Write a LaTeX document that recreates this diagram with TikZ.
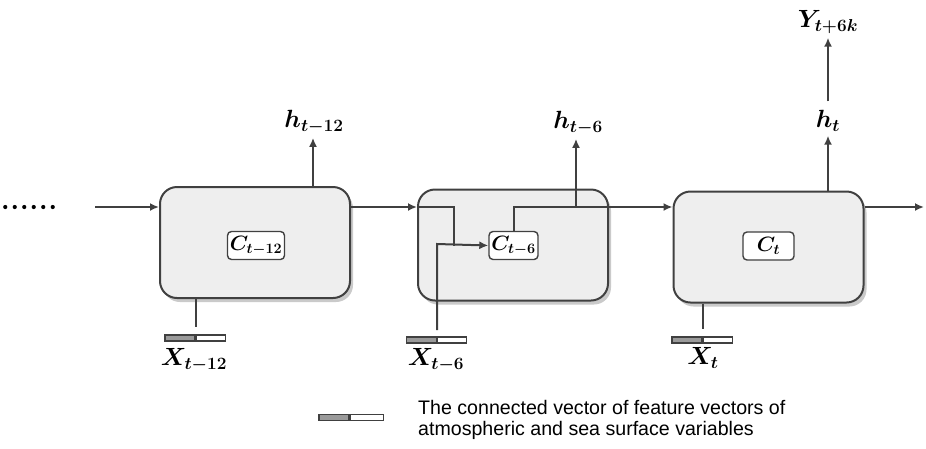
\documentclass[tikz,border=0pt]{standalone}
\usepackage{fontspec}
\setsansfont{Liberation Sans}
\usepackage{bm}
\usetikzlibrary{shadows,arrows.meta}
\definecolor{lc}{HTML}{404040}
\definecolor{cellfill}{HTML}{EEEEEE}
\definecolor{vecgray}{HTML}{9A9A9A}
\begin{document}
\begin{tikzpicture}[x=1pt,y=-1pt,
  line/.style={draw=lc, line width=2pt},
  arr/.style={line, -{Latex[length=9pt,width=8pt]}},
  cell/.style={draw=lc, line width=2pt, fill=cellfill, rounded corners=17pt,
    minimum width=190pt, minimum height=111pt,
    drop shadow={shadow xshift=3pt, shadow yshift=-4pt, opacity=0.35, fill=black!60}},
  cbox/.style={draw=lc, line width=1.4pt, fill=white, rounded corners=4pt,
    minimum height=28pt, inner sep=1pt, font=\fontsize{22}{22}\selectfont},
  vg/.style={draw=lc, line width=1.2pt, fill=vecgray, minimum width=30pt, minimum height=6pt, inner sep=0pt},
  vw/.style={draw=lc, line width=1.2pt, fill=white, minimum width=29pt, minimum height=6pt, inner sep=0pt},
  lab/.style={inner sep=0pt, font=\fontsize{24}{24}\selectfont},
]
\useasboundingbox (0,0) rectangle (926,448);

% cells
\node[cell] (c1) at (255,242.5) {};
\node[cell] (c2) at (513,245) {};
\node[cell] (c3) at (768.5,247) {};

% inner states
\node[cbox, minimum width=57pt] (k1) at (256,245.5) {$\bm{C}_{\bm{t-12}}$};
\node[cbox, minimum width=49pt] (k2) at (513.5,245.5) {$\bm{C}_{\bm{t-6}}$};
\node[cbox, minimum width=51pt] (k3) at (768.5,246) {$\bm{C}_{\bm{t}}$};

% feature vectors
\node[vg] (g1) at (180,338) {};
\node[vw, anchor=west] (w1) at (g1.east) {};
\node[vg] (g2) at (421.5,340) {};
\node[vw, anchor=west] (w2) at (g2.east) {};
\node[vg] (g3) at (687,340) {};
\node[vw, anchor=west] (w3) at (g3.east) {};
\node[vg] (gl) at (334,417.5) {};
\node[vw, anchor=west, minimum width=33pt] (wl) at (gl.east) {};

% labels
\node[lab] (x1) at (194,360) {$\bm{X}_{\bm{t-12}}$};
\node[lab] (x2) at (436,360) {$\bm{X}_{\bm{t-6}}$};
\node[lab] (x3) at (703,358) {$\bm{X}_{\bm{t}}$};
\node[lab] (h1) at (314,122) {$\bm{h}_{\bm{t-12}}$};
\node[lab] (h2) at (578,123) {$\bm{h}_{\bm{t-6}}$};
\node[lab] (h3) at (828,121) {$\bm{h}_{\bm{t}}$};
\node[lab] (y3) at (828,22) {$\bm{Y}_{\bm{t+6k}}$};
\node[inner sep=0pt, font=\sffamily\fontsize{19.6}{21}\selectfont, align=left, anchor=north west] (leg) at (418,400)
  {The connected vector of feature vectors of\\atmospheric and sea surface variables};

% dots
\node[inner sep=0pt] (dots) at (29,207) {\tikz[baseline]{\foreach \i in {0,...,5}{\fill[black] (\i*9.5pt,0) circle (2.1pt);}}};

% coordinates
\coordinate (lvl) at (0,207);
\coordinate (in0) at (95,207);
\coordinate (out3) at (924,207);
\coordinate (b2) at (454,207);
\coordinate (j2) at (437,244);
\coordinate (x2top) at (437,330);
\coordinate (hx1) at (313,0);
\coordinate (hx2) at (576,0);
\coordinate (hx3) at (828,0);

% recurrent flow
\draw[arr] (in0) -- (c1.west |- in0);
\draw[arr] (c1.east |- lvl) -- (c2.west |- lvl);
\draw[line] (c2.west |- lvl) -- (b2) -- (b2 |- k2.west);
\draw[arr] (x2top) -- (j2) -- (k2.west);
\draw[line] (k2.north) -- (k2.north |- lvl) -- (c2.east |- lvl);
\draw[arr] (c2.east |- lvl) -- (c3.west |- lvl);
\draw[arr] (c3.east |- lvl) -- (out3);

% hidden outputs
\draw[arr] (hx1 |- c1.north) -- ([yshift=-4pt]hx1 |- h1.south);
\draw[arr] (hx2 |- lvl) -- ([yshift=-4pt]hx2 |- h2.south);
\draw[arr] (hx3 |- c3.north) -- ([yshift=-4pt]hx3 |- h3.south);
\draw[arr] ([yshift=9pt]h3.north) -- ([yshift=-4pt]y3.south);

% inputs
\draw[line] (c1.south -| g1.east) -- ([yshift=7pt]g1.north east);
\draw[line] (c3.south -| g3.east) -- ([yshift=7pt]g3.north east);
\end{tikzpicture}
\end{document}
